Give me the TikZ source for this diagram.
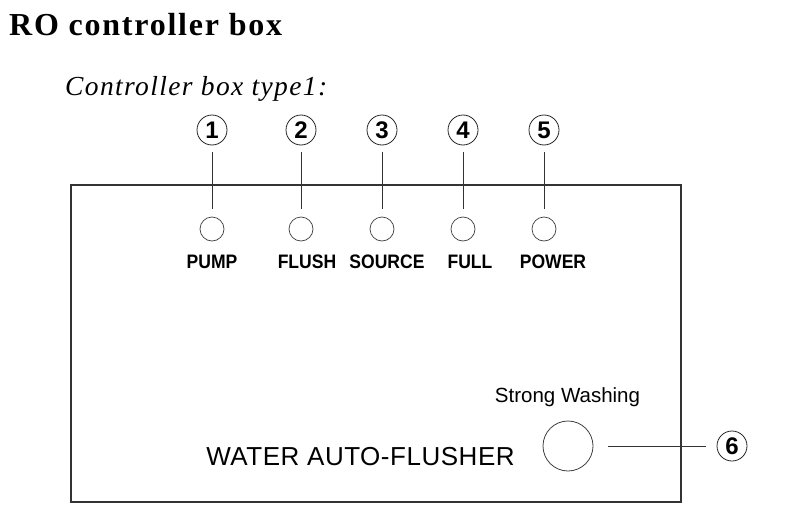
\documentclass[tikz,border=0pt]{standalone}
\usepackage{fontspec}
\setmainfont{Liberation Serif}
\setsansfont{Liberation Sans}
\newfontfamily\titlefont[LetterSpace=5.5]{Liberation Serif}
\newfontfamily\subfont[LetterSpace=5]{Liberation Serif}
\newfontfamily\labfont{Liberation Sans}
\newfontfamily\wafont[LetterSpace=2]{Liberation Sans}
\begin{document}
\begin{tikzpicture}[x=1pt,y=-1pt,
  numcircle/.style={circle,draw=black!85,line width=0.8pt,minimum size=30pt,inner sep=0pt,font=\labfont\fontsize{24}{24}\selectfont\bfseries},
  led/.style={circle,draw=black!75,line width=0.7pt,minimum size=24pt,inner sep=0pt},
  button/.style={circle,draw=black!75,line width=0.8pt,minimum size=50pt,inner sep=0pt},
  leader/.style={draw=black!80,line width=0.8pt},
  ledlabel/.style={anchor=base,inner sep=0pt,font=\labfont\fontsize{19.5}{19.5}\selectfont\bfseries},
  panel/.style={draw=black!80,line width=1.1pt}]
\useasboundingbox (0,0) rectangle (812,514);
\fill[white] (0,0) rectangle (812,514);
% title
\node[anchor=base west,inner sep=0pt,font=\titlefont\fontsize{32}{32}\selectfont\bfseries] (title) at (9,35) {RO controller box};
\node[anchor=base west,inner sep=0pt,font=\subfont\fontsize{27.5}{27.5}\selectfont\itshape] (sub) at (65,95) {Controller box type1:};
% panel
\draw[panel] (71,185) rectangle (681,502);
% numbers and LEDs
\foreach \n/\x in {1/212,2/301,3/382,4/463,5/544}{
  \node[numcircle] (n\n) at (\x,130) {\n};
  \node[led] (l\n) at (\x,229) {};
  \draw[leader,shorten <=7pt,shorten >=8pt] (n\n) -- (l\n);
}
\node[ledlabel] (t1) at (212,268) {\scalebox{0.9}[1]{PUMP}};
\node[ledlabel] (t2) at (307,268) {\scalebox{0.9}[1]{FLUSH}};
\node[ledlabel] (t3) at (387,268) {\scalebox{0.9}[1]{SOURCE}};
\node[ledlabel] (t4) at (470,268) {\scalebox{0.9}[1]{FULL}};
\node[ledlabel] (t5) at (553,268) {\scalebox{0.9}[1]{POWER}};
% button
\node[button] (btn) at (568,446) {};
\node[numcircle] (n6) at (732,446) {6};
\draw[leader,shorten <=15pt,shorten >=11pt] (btn) -- (n6);
\node[anchor=base,inner sep=0pt,font=\labfont\fontsize{20.5}{20.5}\selectfont] (sw) at (567.5,402) {Strong Washing};
\node[anchor=base,inner sep=0pt,font=\wafont\fontsize{26}{26}\selectfont] (waf) at (360.5,465) {WATER AUTO-FLUSHER};
\end{tikzpicture}
\end{document}
